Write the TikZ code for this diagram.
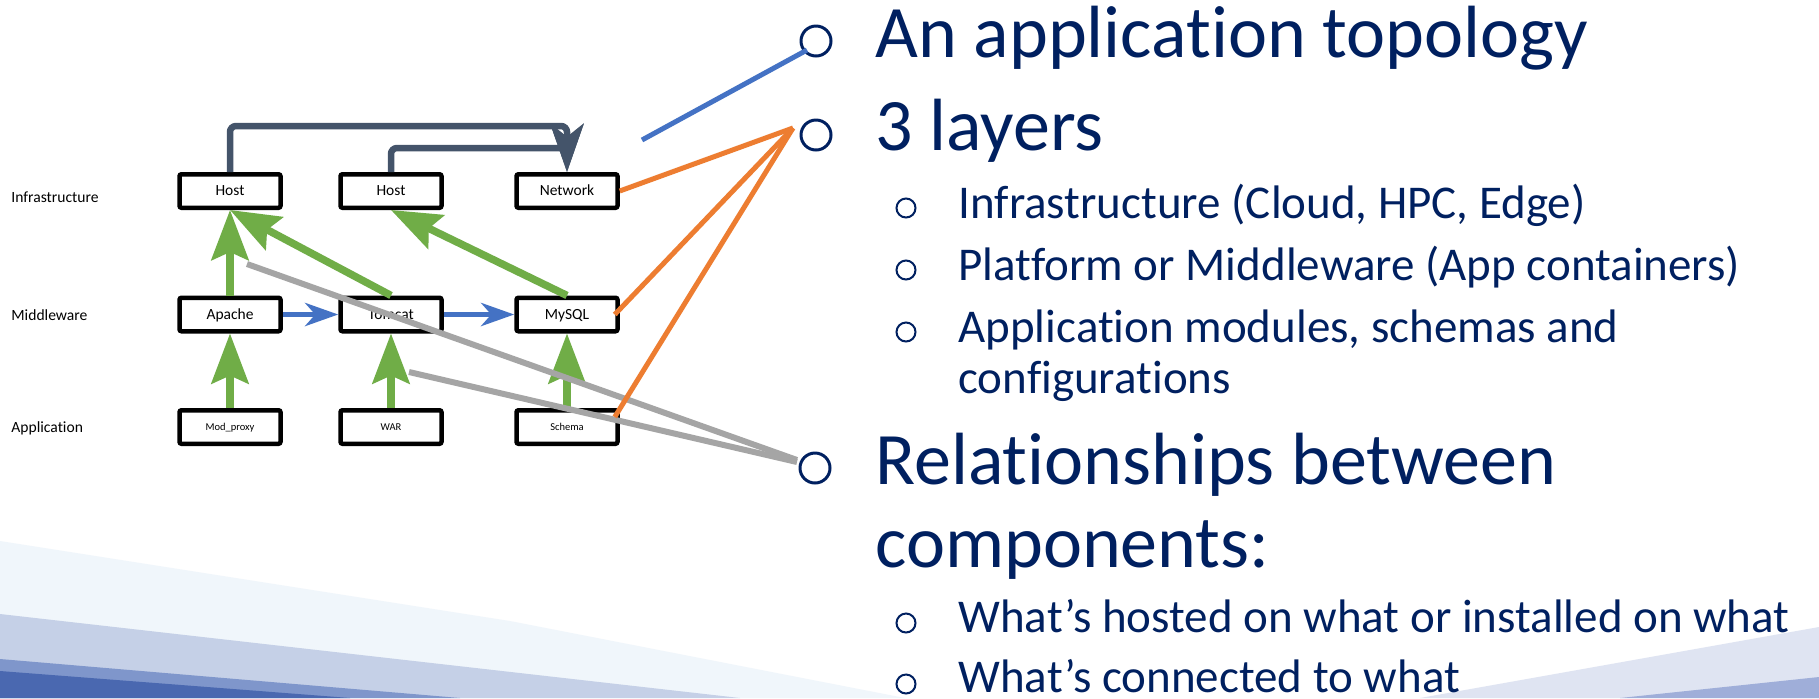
\documentclass[tikz,border=0pt]{standalone}
\usepackage{fontspec}
\setmainfont{Carlito}[Ligatures={NoCommon}]
\usetikzlibrary{arrows.meta,calc}

\definecolor{navy}{HTML}{002060}
\definecolor{slate}{HTML}{44546A}
\definecolor{leafgreen}{HTML}{70AD47}
\definecolor{linkblue}{HTML}{4472C4}
\definecolor{hintorange}{HTML}{ED7D31}
\definecolor{hintgray}{HTML}{A5A5A5}
\definecolor{bandA}{HTML}{F0F6FB}
\definecolor{bandB}{HTML}{C5D0E7}
\definecolor{bandC}{HTML}{7F96CB}
\definecolor{bandD}{HTML}{4A68B0}
\definecolor{bandE}{HTML}{DFE4F2}
\definecolor{bandF}{HTML}{9FAED9}

\begin{document}
\begin{tikzpicture}[x=0.5pt,y=-0.5pt,
  comp/.style={draw=black, line width=2.25pt, fill=white, rounded corners=1pt,
    minimum width=50.5pt, minimum height=16.75pt, inner sep=0pt,
    font=\fontsize{7.75}{9}\selectfont, text height=4.9pt, text depth=0pt},
  smallcomp/.style={comp, font=\fontsize{5.25}{6}\selectfont, text height=3.3pt},
  layerlabel/.style={anchor=base west, inner sep=0pt, font=\fontsize{7.8}{9}\selectfont},
  hosted/.style={draw=leafgreen, line width=3.75pt,
    -{Stealth[length=25pt, width=18.5pt, inset=4pt]}},
  linked/.style={draw=linkblue, line width=2.85pt,
    -{Stealth[length=16.5pt, width=11.5pt, inset=5pt]}},
  wired/.style={draw=slate, line width=3.25pt, rounded corners=3pt,
    -{Stealth[length=24pt, width=16.5pt, inset=6.5pt]}},
  pointer/.style={line width=2.5pt},
  headtext/.style={anchor=base west, inner sep=0pt, text=navy, font=\fontsize{37}{40}\selectfont},
  subtext/.style={anchor=base west, inner sep=0pt, text=navy, font=\fontsize{23.5}{26}\selectfont},
  bigdot/.style={circle, draw=navy, line width=1.5pt, minimum size=15pt, inner sep=0pt},
  smalldot/.style={circle, draw=navy, line width=1pt, minimum size=9.5pt, inner sep=0pt}
]
\useasboundingbox (0,0) rectangle (1819,698);
\fill[white] (0,0) rectangle (1819,698);

% decorative bands along the bottom edge
\fill[bandA] (0,541) -- (510,621) -- (905,698) -- (0,698) -- cycle;
\fill[bandB] (0,614) -- (740,698) -- (0,698) -- cycle;
\fill[bandC] (0,659) -- (460,698) -- (0,698) -- cycle;
\fill[bandD] (0,671) -- (350,698) -- (0,698) -- cycle;
\fill[bandE] (1819,627) -- (1420,698) -- (1819,698) -- cycle;
\fill[bandF] (1819,677) -- (1620,698) -- (1819,698) -- cycle;

% layer names
\node[layerlabel] (lInfra) at (11,202) {Infrastructure};
\node[layerlabel] (lMid) at (11,320) {Middleware};
\node[layerlabel] (lApp) at (11,432) {Application};

% components
\node[comp] (h1) at (230,191) {Host};
\node[comp] (h2) at (391,191) {Host};
\node[comp] (net) at (567,191) {Network};
\node[comp] (ap) at (230,314.5) {Apache};
\node[comp] (tc) at (391,314.5) {Tomcat};
\node[comp] (ms) at (567,314.5) {MySQL};
\node[smallcomp] (mp) at (230,427) {Mod\_proxy};
\node[smallcomp] (war) at (391,427) {WAR};
\node[smallcomp] (sch) at (567,427) {Schema};

% network links
\draw[wired] (h1.north) -- (h1.north |- 0,126) -| (net.north);
\draw[wired] (h2.north) -- (h2.north |- 0,148) -| (net.north);

% hosted-on relations
\draw[hosted] (mp.north) -- (ap.south);
\draw[hosted] (war.north) -- (tc.south);
\draw[hosted] (sch.north) -- (ms.south);
\draw[hosted] (ap.north) -- (h1.south);
\draw[hosted] (tc.north) -- (h1.south);
\draw[hosted] (ms.north) -- (h2.south);

% connected-to relations
\draw[linked] (ap.east) -- (tc.west);
\draw[linked] (tc.east) -- (ms.west);

% bullets
\node[bigdot] (d1) at (816,41) {};
\node[bigdot] (d2) at (816,135) {};
\node[bigdot] (d3) at (815,468) {};
\node[smalldot] (s1) at (906,208) {};
\node[smalldot] (s2) at (906,270) {};
\node[smalldot] (s3) at (906,332) {};
\node[smalldot] (s4) at (906,623) {};
\node[smalldot] (s5) at (906,684) {};

% pointer lines towards the bullets
\coordinate (topoStart) at (642,140);
\coordinate (topoEnd) at (807,50);
\coordinate (layerEnd) at (793,128);
\coordinate (relStartA) at (247,264);
\coordinate (relStartB) at (409,372);
\coordinate (relEndA) at (797,460);
\coordinate (relEndB) at (797,462);

\draw[pointer, hintgray, line width=3pt] (relStartA) -- (relEndA);
\draw[pointer, hintgray, line width=3pt] (relStartB) -- (relEndB);
\draw[pointer, hintorange] (net.east) -- (layerEnd);
\draw[pointer, hintorange] ($(ms.east)+(-5,0)$) -- (layerEnd);
\draw[pointer, hintorange] ($(sch.east)+(-5,-10)$) -- (layerEnd);
\draw[pointer, linkblue] (topoStart) -- (topoEnd);

% bullet text
\node[headtext] (t1) at (875,57) {An application topology};
\node[headtext] (t2) at (875,150) {3 layers};
\node[subtext] (t21) at (958,218) {Infrastructure (Cloud, HPC, Edge)};
\node[subtext] (t22) at (958,280) {Platform or Middleware (App containers)};
\node[subtext] (t23) at (958,342) {Application modules, schemas and};
\node[subtext] (t23b) at (958,393) {configurations};
\node[headtext] (t3) at (875,484) {Relationships between};
\node[headtext] (t3b) at (875,567) {components:};
\node[subtext] (t31) at (958,632) {What’s hosted on what or installed on what};
\node[subtext] (t32) at (958,692) {What’s connected to what};
\end{tikzpicture}
\end{document}
